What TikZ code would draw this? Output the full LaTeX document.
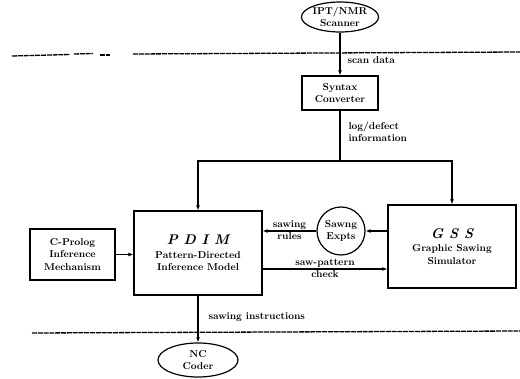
\documentclass[tikz,border=0pt]{standalone}
\usetikzlibrary{shapes.geometric,arrows.meta,calc}
\begin{document}
\begin{tikzpicture}[x=1pt,y=-1pt,
  lbl/.style={font=\bfseries\fontsize{10}{12.5}\selectfont, align=center},
  blk/.style={draw, line width=1.2pt, lbl, inner sep=0pt},
  oval/.style={draw, ellipse, line width=1.2pt, lbl, inner sep=0pt},
  arr/.style={line width=1.1pt, -{Latex[length=5pt,width=4pt]}},
  wire/.style={line width=1.1pt},
  divider/.style={line width=1.3pt, dash pattern=on 5pt off 0.8pt}]
\useasboundingbox (0,0) rectangle (520,379);

% system boundary lines
\draw[divider] (12,56) -- (70,54.5);
\draw[divider] (74,54) -- (93,53.5);
\draw[divider] (100,55) -- (110,55);
\draw[divider] (133,54) -- (520,52);
\draw[divider] (32,333) -- (520,331);

% blocks
\node[oval, minimum width=70pt, minimum height=30pt] (scanner) at (340,17) {IPT/NMR\\Scanner};
\node[blk, minimum width=76pt, minimum height=34pt] (syntax) at (340,93) {Syntax\\Converter};
\node[blk, minimum width=128pt, minimum height=84pt] (pdim) at (198,253)
  {{\itshape\fontsize{14}{16}\selectfont P D I M}\\[1pt]Pattern-Directed\\Inference Model};
\node[blk, minimum width=128pt, minimum height=83pt] (gss) at (452,246.5)
  {{\itshape\fontsize{14}{16}\selectfont G S S}\\[1pt]Graphic Sawing\\Simulator};
\node[draw, circle, line width=1.2pt, lbl, minimum size=48pt, inner sep=0pt] (expts) at (341,231) {Sawng\\Expts};
\node[blk, minimum width=85pt, minimum height=51pt] (cprolog) at (72.5,254.5) {C-Prolog\\Inference\\Mechanism};
\node[oval, minimum width=80pt, minimum height=34pt] (nc) at (198,360) {NC\\Coder};

% data flow
\draw[arr] (scanner) -- (syntax);
\node[lbl, anchor=west] (scanlbl) at (344,60) {scan data};

\coordinate (split) at (340,161);
\draw[wire] (syntax.south) -- (split);
\draw[arr] (split) -| (pdim.north);
\draw[arr] (split) -| (gss.north);
\node[lbl, anchor=west, align=left] (loglbl) at (345,132) {log/defect\\information};

\draw[arr] (cprolog.east) -- (cprolog.east -| pdim.west);

\draw[arr] (gss.west |- expts) -- (expts.east);
\draw[arr] (expts.west) -- (expts.west -| pdim.east);
\coordinate (rulesmid) at ($(pdim.east |- expts)!0.5!(expts.west)$);
\node[lbl, anchor=south, inner sep=1.5pt] (sawlbl) at (rulesmid) {sawing};
\node[lbl, anchor=north, inner sep=1.5pt] (ruleslbl) at (rulesmid) {rules};

\coordinate (sp) at ($(pdim.east)+(0,16)$);
\draw[arr] (sp) -- (sp -| gss.west);
\coordinate (spmid) at ($(sp)!0.5!(sp -| gss.west)$);
\node[lbl, anchor=south, inner sep=1.5pt] (splbl) at (spmid) {saw-pattern};
\node[lbl, anchor=north, inner sep=1.5pt] (checklbl) at (spmid) {check};

\draw[arr] (pdim.south) -- (nc.north);
\node[lbl, anchor=west] (instrlbl) at (205,317) {sawing instructions};
\end{tikzpicture}
\end{document}
